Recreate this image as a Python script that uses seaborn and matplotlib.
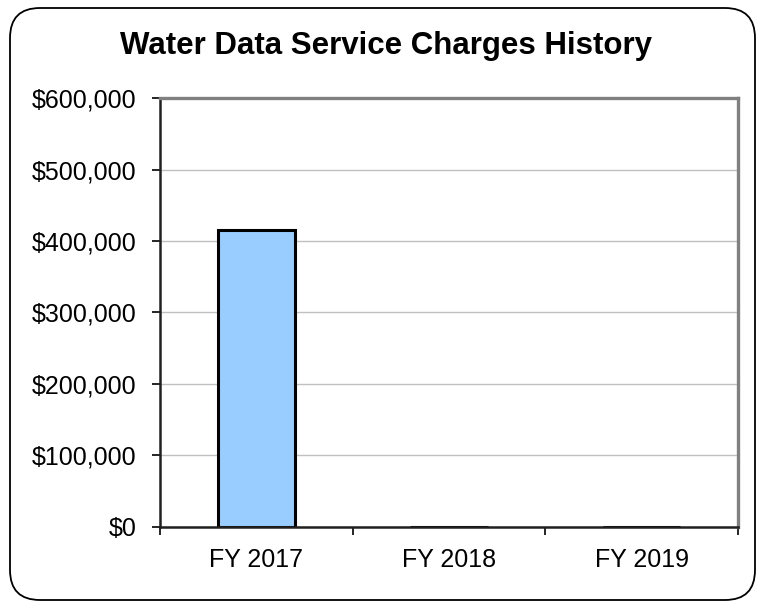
import matplotlib
matplotlib.use("Agg")
import matplotlib.pyplot as plt
import matplotlib.patches as mpatches
from matplotlib.ticker import FuncFormatter, FixedLocator
import seaborn as sns

years = ["FY 2017", "FY 2018", "FY 2019"]
charges = [415000, 0, 0]
y_ticks = [0, 100000, 200000, 300000, 400000, 500000, 600000]

sns.set_style("white")
plt.rcParams['font.family'] = ['Liberation Sans', 'DejaVu Sans']
plt.rcParams['text.color'] = 'black'
plt.rcParams['xtick.color'] = 'black'
plt.rcParams['ytick.color'] = 'black'

fig = plt.figure(figsize=(7.6, 6.05), dpi=100)
ax = fig.add_axes([0.2105, 0.129, 0.7605, 0.709])

sns.barplot(x=years, y=charges, color="#99CCFF", edgecolor="black",
            linewidth=2.2, width=0.4, saturation=1, ax=ax)

ax.set_ylim(0, 600000)
ax.set_xlim(-0.5, 2.5)
ax.yaxis.set_major_locator(FixedLocator(y_ticks))
ax.yaxis.set_major_formatter(FuncFormatter(lambda v, p: f"${v:,.0f}"))
ax.grid(axis="y", color="#C0C0C0", linewidth=1)
ax.set_axisbelow(True)

# category ticks sit on the boundaries, labels at centres
ax.set_xticks([-0.5, 0.5, 1.5, 2.5])
ax.set_xticklabels([])
ax.set_xticks([0, 1, 2], minor=True)
ax.set_xticklabels(years, minor=True, fontsize=18)
ax.tick_params(axis="x", which="major", direction="out", length=6, width=1.2, color="black", bottom=True)
ax.tick_params(axis="x", which="minor", length=0, pad=15)
ax.tick_params(axis="y", direction="out", length=6, width=1.2, color="black", left=True, labelsize=18, pad=11)
ax.set_xlabel("")
ax.set_ylabel("")

for side in ["left", "bottom"]:
    ax.spines[side].set_color("#202020")
    ax.spines[side].set_linewidth(1.8)
for side in ["top", "right"]:
    ax.spines[side].set_visible(True)
    ax.spines[side].set_color("#808080")
    ax.spines[side].set_linewidth(2.4)

fig.text(0.508, 0.924, "Water Data Service Charges History", ha="center", va="center",
         fontsize=22.5, fontweight="bold")

border = mpatches.FancyBboxPatch((0.10, 0.05), 7.45, 5.92,
                                 boxstyle="round,pad=0,rounding_size=0.3",
                                 transform=fig.dpi_scale_trans, fill=False,
                                 edgecolor="black", linewidth=1.3)
fig.patches.append(border)

fig.savefig("out.png", dpi=100)
